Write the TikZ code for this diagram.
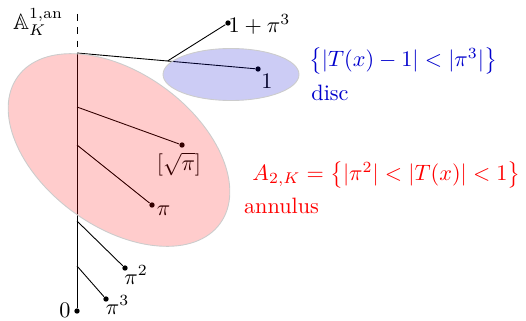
\documentclass[tikz,border=0pt]{standalone}
\usepackage{amsmath,amssymb}
\usetikzlibrary{calc}
\tikzset{
  bt/point/.style={circle, fill=black, inner sep=0pt, minimum size=2.4pt},
  bt/line/.style={line width=0.4pt},
  bt/label/.style={inner sep=0pt},
  bt/region/.style={draw=black!20, line width=0.4pt, fill opacity=0.2},
  bt/disc/.style={bt/region, fill=blue!80!black},
  bt/annulus/.style={bt/region, fill=red},
  bt/disctext/.style={inner sep=0pt, text=blue!80!black},
  bt/anntext/.style={inner sep=0pt, text=red}
}

\begin{document}
\begin{tikzpicture}[x=0.45pt, y=-0.45pt]
  \useasboundingbox (0,0) rectangle (526,320);

  % points of the tree
  \node[bt/point] (zero) at (77,311) {};
  \node[bt/point] (pithree) at (106,299) {};
  \node[bt/point] (pitwo) at (125,268) {};
  \node[bt/point] (pi) at (152,205) {};
  \node[bt/point] (sqpi) at (182,145) {};
  \node[bt/point] (one) at (258,69) {};
  \node[bt/point] (onepi) at (228,23) {};

  \coordinate (top) at (77,14);
  \coordinate (b1) at (77,53);
  \coordinate (bsq) at (77,107);
  \coordinate (bpi) at (77,145);
  \coordinate (bpitwo) at (77,221);
  \coordinate (bpithree) at (77,266);
  \coordinate (bone) at ($(b1)!0.5!(one)$);

  % branches
  \draw[bt/line] (zero) -- (b1);
  \draw[bt/line, dashed] (top) -- (b1);
  \draw[bt/line] (b1) -- (one);
  \draw[bt/line] (bone) -- (onepi);
  \draw[bt/line] (bsq) -- (sqpi);
  \draw[bt/line] (bpi) -- (pi);
  \draw[bt/line] (bpitwo) -- (pitwo);
  \draw[bt/line] (bpithree) -- (pithree);

  % labels
  \node[bt/label] (lzero) at (65,310) {$0$};
  \node[bt/label] (lpithree) at (117.5,305) {$\pi^3$};
  \node[bt/label] (lpitwo) at (136,275) {$\pi^2$};
  \node[bt/label] (lpi) at (163.5,211) {$\pi$};
  \node[bt/label] (lsqpi) at (179,164) {$[\sqrt{\pi}]$};
  \node[bt/label] (lone) at (267,81) {$1$};
  \node[bt/label] (lonepi) at (259.5,24) {$1+\pi^3$};
  \node[bt/label] (line) at (38,22) {$\mathbb{A}^{1,\mathrm{an}}_K$};

  % regions
  \filldraw[bt/annulus, rotate around={-36:(119,150)}] (119,150) ellipse [x radius=125, y radius=77];
  \filldraw[bt/disc] (231,74.5) ellipse [x radius=68, y radius=26];

  \node[bt/disctext] (dset) at (403,61) {$\left\{|T(x)-1|<|\pi^3|\right\}$};
  \node[bt/disctext] (dname) at (330,93) {disc};
  \node[bt/anntext] (aset) at (386.5,175) {$A_{2,K}=\left\{|\pi^2|<|T(x)|<1\right\}$};
  \node[bt/anntext] (aname) at (281.5,205.5) {annulus};
\end{tikzpicture}
\end{document}
